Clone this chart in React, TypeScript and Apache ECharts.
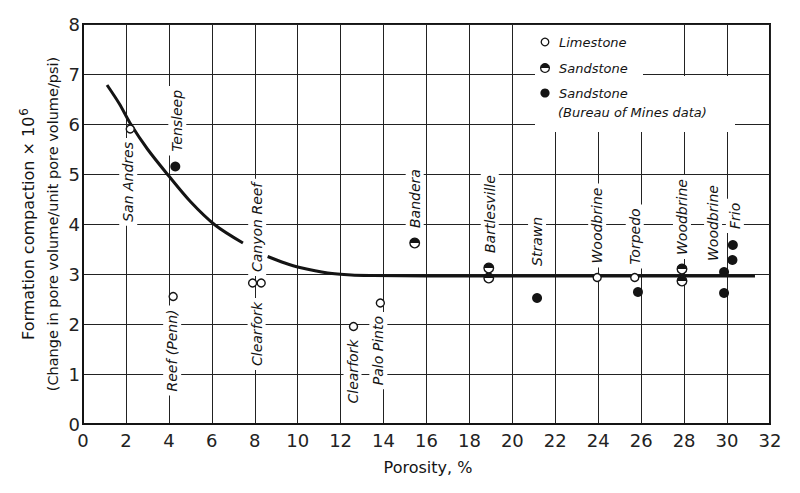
import React, { useEffect, useRef } from "react";
import * as echarts from "echarts";

// Fitted curve (two drawn segments, interrupted by the "Canyon Reef" label)
const curveSegment1: number[][] = [
  [1.12, 6.78], [1.7, 6.4], [2.19, 6.02], [3.0, 5.5], [3.96, 4.98], [5.0, 4.45], [6.15, 3.98], [7.45, 3.62],
];
const curveSegment2: number[][] = [
  [8.6, 3.35], [9.4, 3.22], [10.1, 3.13], [11.4, 3.02], [12.5, 2.98], [13.5, 2.97], [16, 2.96], [20, 2.96], [24, 2.96], [28, 2.96], [31.3, 2.96],
];

// [porosity %, compaction x 1e6]
const limestone: number[][] = [
  [2.2, 5.9], [4.2, 2.55], [7.9, 2.82], [8.3, 2.82], [12.6, 1.95], [13.85, 2.42], [23.95, 2.93], [25.7, 2.93],
];
const sandstone: number[][] = [
  [15.45, 3.62], [18.9, 3.12], [18.9, 2.92], [27.9, 3.1], [27.9, 2.86],
];
const sandstoneBureau: number[][] = [
  [4.3, 5.15], [21.15, 2.52], [25.85, 2.64], [29.86, 3.04], [29.86, 2.62], [30.27, 3.58], [30.25, 3.28],
];

// Formation names and the point each one labels
const formationNames: string[] = [
  "San Andres", "Tensleep", "Canyon Reef", "Clearfork", "Reef (Penn)", "Clearfork", "Palo Pinto",
  "Bandera", "Bartlesville", "Strawn", "Woodbrine", "Torpedo", "Woodbrine", "Woodbrine", "Frio",
];
const formationAnchors: number[][] = [
  [2.2, 5.9], [4.3, 5.15], [8.3, 2.82], [7.9, 2.82], [4.2, 2.55], [12.6, 1.95], [13.85, 2.42],
  [15.45, 3.62], [18.9, 3.12], [21.15, 2.52], [23.95, 2.93], [25.7, 2.93], [27.9, 3.1], [29.86, 3.04], [30.27, 3.58],
];

// Layout of the rotated labels (pixel offset from anchor, and which end sits at the anchor)
const labelLayout: { dx: number; dy: number; align: "left" | "right" }[] = [
  { dx: -2, dy: 9, align: "right" },
  { dx: 2, dy: -11, align: "left" },
  { dx: -4, dy: -7, align: "left" },
  { dx: 4, dy: 15, align: "right" },
  { dx: -1, dy: 9, align: "right" },
  { dx: -1, dy: 9, align: "right" },
  { dx: -2, dy: 9, align: "right" },
  { dx: 0, dy: -11, align: "left" },
  { dx: 1, dy: -11, align: "left" },
  { dx: 0, dy: -28, align: "left" },
  { dx: 0, dy: -10, align: "left" },
  { dx: 0, dy: -9, align: "left" },
  { dx: 0, dy: -10, align: "left" },
  { dx: -11, dy: -7, align: "left" },
  { dx: 2, dy: -12, align: "left" },
];

const FONT = "DejaVu Sans";
const INK = "#141414";

export default function App() {
  const ref = useRef<HTMLDivElement>(null);

  useEffect(() => {
    if (!ref.current) return;
    const chart = echarts.init(ref.current, undefined, { renderer: "svg" });

    chart.setOption({
      animation: false,
      backgroundColor: "#fff",
      grid: {
        left: 83, right: 30, top: 24, bottom: 69,
        show: true, borderColor: INK, borderWidth: 2, backgroundColor: "transparent",
      },
      xAxis: {
        type: "value", min: 0, max: 32, interval: 2,
        axisLine: { show: true, lineStyle: { color: INK, width: 2 } },
        axisTick: { show: false },
        axisLabel: { color: "#222", fontSize: 18, fontFamily: FONT, margin: 7 },
        splitLine: { show: true, lineStyle: { color: "#222", width: 1 } },
      },
      yAxis: {
        type: "value", min: 0, max: 8, interval: 1,
        axisLine: { show: true, lineStyle: { color: INK, width: 2 } },
        axisTick: { show: false },
        axisLabel: { color: "#222", fontSize: 18, fontFamily: FONT, margin: 3 },
        splitLine: { show: true, lineStyle: { color: "#222", width: 1 } },
      },
      series: [
        {
          type: "line", data: curveSegment1, smooth: 0.3,
          showSymbol: false, lineStyle: { color: INK, width: 3 }, z: 3,
        },
        {
          type: "line", data: curveSegment2, smooth: 0.3,
          showSymbol: false, lineStyle: { color: INK, width: 3 }, z: 3,
        },
        {
          type: "scatter", data: limestone, symbol: "circle", symbolSize: 8,
          itemStyle: { color: "#fff", borderColor: INK, borderWidth: 1.4, opacity: 1 }, z: 4,
        },
        {
          type: "custom", data: sandstone, encode: { x: 0, y: 1 }, z: 4,
          renderItem: (_params: any, api: any) => {
            const p = api.coord([api.value(0), api.value(1)]);
            const r = 4.8;
            return {
              type: "group",
              children: [
                { type: "circle", shape: { cx: p[0], cy: p[1], r }, style: { fill: "#fff", stroke: INK, lineWidth: 1.4 } },
                { type: "sector", shape: { cx: p[0], cy: p[1], r0: 0, r, startAngle: Math.PI, endAngle: 2 * Math.PI }, style: { fill: INK } },
              ],
            };
          },
        },
        {
          type: "scatter", data: sandstoneBureau, symbol: "circle", symbolSize: 10,
          itemStyle: { color: INK, opacity: 1 }, z: 4,
        },
      ],
    });

    const labelEls = formationNames.map((name, i) => {
      const p = chart.convertToPixel({ gridIndex: 0 }, formationAnchors[i]) as number[];
      const l = labelLayout[i];
      return {
        type: "text", id: "lbl" + i, z: 1,
        x: p[0] + l.dx, y: p[1] + l.dy, rotation: Math.PI / 2,
        style: {
          text: name, fontSize: 14, fontStyle: "italic", fontFamily: FONT, fill: INK,
          align: l.align, verticalAlign: "middle", backgroundColor: "#fff", padding: [2, 4],
        },
      };
    });

    const legendText = (id: string, text: string, x: number, y: number) => ({
      type: "text", id, z: 5, x, y,
      style: { text, fontSize: 13, fontStyle: "italic", fontFamily: FONT, fill: INK, align: "left", verticalAlign: "middle" },
    });

    chart.setOption({
      graphic: [
        ...labelEls,
        { type: "rect", id: "mask1", z: 1, shape: { x: 535, y: 25, width: 108, height: 107 }, style: { fill: "#fff" } },
        { type: "rect", id: "mask2", z: 1, shape: { x: 643, y: 76, width: 92, height: 56 }, style: { fill: "#fff" } },
        { type: "circle", id: "lg1", z: 5, shape: { cx: 545, cy: 42, r: 3.8 }, style: { fill: "#fff", stroke: INK, lineWidth: 1.3 } },
        legendText("lt1", "Limestone", 559, 42),
        { type: "circle", id: "lg2", z: 5, shape: { cx: 545, cy: 68, r: 4.4 }, style: { fill: "#fff", stroke: INK, lineWidth: 1.3 } },
        { type: "sector", id: "lg2b", z: 6, shape: { cx: 545, cy: 68, r0: 0, r: 4.4, startAngle: Math.PI, endAngle: 2 * Math.PI }, style: { fill: INK } },
        legendText("lt2", "Sandstone", 559, 68),
        { type: "circle", id: "lg3", z: 5, shape: { cx: 545, cy: 93, r: 4.6 }, style: { fill: INK } },
        legendText("lt3", "Sandstone", 559, 93),
        legendText("lt4", "(Bureau of Mines data)", 558, 112),
        {
          type: "text", id: "yname1", z: 5, x: 28, y: 224, rotation: Math.PI / 2,
          style: {
            text: "Formation compaction × 10{sup|6}", fontSize: 16, fontFamily: FONT, fill: INK, align: "center", verticalAlign: "middle",
            rich: { sup: { fontSize: 12, fontFamily: FONT, fill: INK, padding: [0, 0, 8, 1] } },
          },
        },
        {
          type: "text", id: "yname2", z: 5, x: 53, y: 224, rotation: Math.PI / 2,
          style: { text: "(Change in pore volume/unit pore volume/psi)", fontSize: 14.5, fontFamily: FONT, fill: INK, align: "center", verticalAlign: "middle" },
        },
        {
          type: "text", id: "xname", z: 5, x: 428, y: 467,
          style: { text: "Porosity, %", fontSize: 16, fontFamily: FONT, fill: INK, align: "center", verticalAlign: "middle" },
        },
      ],
    });

    return () => chart.dispose();
  }, []);

  return <div ref={ref} style={{ width: 800, height: 493, position: "absolute", left: 0, top: 0 }} />;
}
